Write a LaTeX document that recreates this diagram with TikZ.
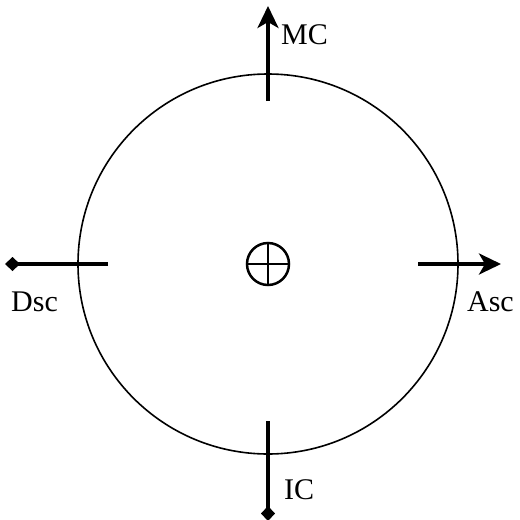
\documentclass[tikz,border=0pt]{standalone}
\usepackage{fontspec}
\setmainfont{Liberation Serif}
\usetikzlibrary{arrows.meta}
\begin{document}
\begin{tikzpicture}[x=1pt,y=-1pt,
  axisline/.style={line width=3.5pt},
  arr/.style={-{Stealth[length=22pt,width=21pt,inset=6pt]}},
  dia/.style={-{Diamond[length=15pt,width=14pt]}},
  lbl/.style={font=\fontsize{30}{33}\selectfont, inner sep=0pt}]
\useasboundingbox (0,0) rectangle (520,520);
\coordinate (c) at (268,264);
\draw[line width=1.6pt] (c) circle (190);
% center symbol
\draw[line width=2.5pt] (c) circle (21);
\draw[line width=2.5pt] (247,264) -- (289,264) (268,243) -- (268,285);
% MC
\coordinate (mc0) at (268,101);
\coordinate (mc1) at (268,6);
\draw[axisline,arr] (mc0) -- (mc1);
\node[lbl, anchor=base west] (mc) at (281,44) {MC};
% IC
\coordinate (ic0) at (268,421);
\coordinate (ic1) at (268,521);
\draw[axisline,dia] (ic0) -- (ic1);
\node[lbl, anchor=base west] (ic) at (284,499) {IC};
% Dsc
\coordinate (ds0) at (108,264);
\coordinate (ds1) at (5,264);
\draw[axisline,dia] (ds0) -- (ds1);
\node[lbl, anchor=base west] (dsc) at (11,311) {Dsc};
% Asc
\coordinate (as0) at (418,264);
\coordinate (as1) at (501,264);
\draw[axisline,arr] (as0) -- (as1);
\node[lbl, anchor=base east] (asc) at (514,311) {Asc};
\end{tikzpicture}
\end{document}
